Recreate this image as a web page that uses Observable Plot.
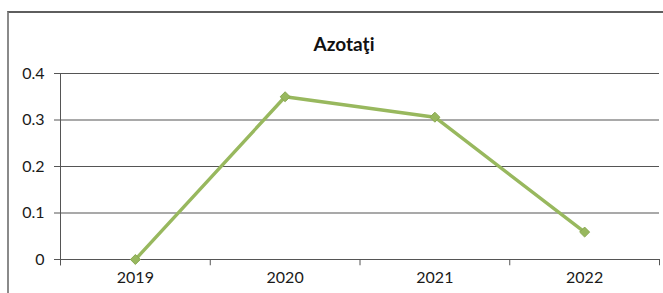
<!DOCTYPE html>
<html>
<head>
<meta charset="utf-8">
<script src="https://cdn.jsdelivr.net/npm/d3@7"></script>
<script src="https://cdn.jsdelivr.net/npm/@observablehq/plot@0.6"></script>
<style>
  html, body { margin: 0; padding: 0; background: #fff; }
  #wrap { position: relative; width: 663px; height: 293px; overflow: hidden; font-family: Lato, "Open Sans", sans-serif; }
  #frame { position: absolute; left: 7px; top: 11px; width: 660px; height: 290px;
           border-left: 2px solid #8a8a8a; border-top: 2px solid #5e5e5e; pointer-events: none; }
  #title { position: absolute; left: 0; width: 688px; top: 32px; text-align: center;
           font-weight: bold; font-size: 19px; color: #111; }
  svg { position: absolute; left: 0; top: 0; }
</style>
</head>
<body>
<div id="wrap">
  <div id="frame"></div>
  <div id="title">Azotaţi</div>
</div>
<script>
const years = ["2019", "2020", "2021", "2022"];
const values = [0, 0.35, 0.306, 0.059];
const yTicks = [0, 0.1, 0.2, 0.3, 0.4];

const data = years.map((y, i) => ({ year: y, pos: i + 0.5, value: values[i] }));
const boundaries = d3.range(years.length + 1);

const chart = Plot.plot({
  width: 663,
  height: 293,
  marginLeft: 60,
  marginRight: 4,
  marginTop: 73,
  marginBottom: 34,
  style: { fontFamily: "Lato, 'Open Sans', sans-serif", fontSize: "16px", color: "#1a1a1a", background: "transparent" },
  x: { domain: [0, years.length], axis: null },
  y: { domain: [0, 0.4], axis: null },
  marks: [
    Plot.ruleY(yTicks, { x1: 0, x2: years.length, y: d => d, stroke: "#555", strokeWidth: 1.2 }),
    Plot.axisY({ ticks: yTicks, tickSize: 6, tickPadding: 10, stroke: "#555", tickFormat: d3.format(""), fontSize: 16, label: null }),
    Plot.ruleX([0], { y1: -0.0135, y2: 0.4, stroke: "#555" }),
    Plot.ruleX(boundaries, { x: d => d, y1: 0, y2: -0.0135, stroke: "#555" }),
    Plot.text(data, { x: "pos", y: 0, text: "year", dy: 18, fontSize: 16, fill: "#1a1a1a" }),
    Plot.line(data, { x: "pos", y: "value", stroke: "#98b85e", strokeWidth: 3.4 }),
    Plot.dot(data, { x: "pos", y: "value", symbol: "diamond2", r: 4.5, fill: "#98b85e", stroke: "#89a852", strokeWidth: 1 })
  ]
});
document.getElementById("wrap").prepend(chart);
</script>
</body>
</html>
